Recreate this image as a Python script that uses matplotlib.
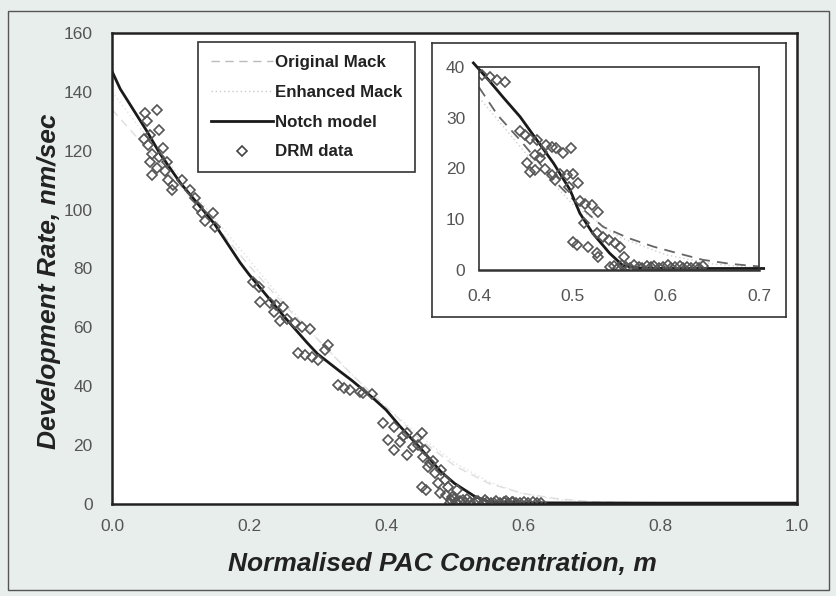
import matplotlib
matplotlib.use("Agg")
import matplotlib.pyplot as plt
from matplotlib.patches import Rectangle
from matplotlib.lines import Line2D

plt.rcParams['font.family'] = ['Liberation Sans', 'DejaVu Sans']

# DRM data
main_m = [0.065, 0.048, 0.051, 0.069, 0.055, 0.046, 0.074, 0.053, 0.058, 0.068,
          0.055, 0.065, 0.058, 0.080, 0.077, 0.082, 0.087, 0.089, 0.102, 0.114,
          0.121, 0.126, 0.131, 0.148, 0.136, 0.150,
          0.206, 0.214, 0.216, 0.231, 0.240, 0.250, 0.236, 0.255, 0.267, 0.277,
          0.289, 0.245, 0.316, 0.311, 0.272, 0.282, 0.292, 0.301, 0.330, 0.338,
          0.347, 0.362, 0.379,
          0.367, 0.396, 0.411, 0.430, 0.452, 0.403, 0.420, 0.440, 0.457, 0.411,
          0.430, 0.454, 0.464, 0.481, 0.472, 0.452, 0.459, 0.479, 0.491, 0.503,
          0.496, 0.493, 0.445, 0.468, 0.486, 0.425, 0.447, 0.462, 0.476, 0.488,
          0.495, 0.502, 0.508, 0.515, 0.522, 0.528, 0.535, 0.541, 0.548, 0.554,
          0.560, 0.566, 0.572, 0.578, 0.584, 0.590, 0.512, 0.531, 0.557, 0.575,
          0.596, 0.602, 0.608, 0.614, 0.620, 0.626, 0.500, 0.518, 0.544, 0.586]
main_rate = [133.8, 132.7, 130.0, 127.0, 125.3, 124.0, 121.0, 122.0, 119.0, 118.0,
             116.3, 114.0, 111.8, 116.3, 113.0, 110.0, 106.7, 108.4, 110.0, 106.7,
             103.8, 101.0, 98.7, 98.7, 96.0, 94.2,
             75.5, 73.8, 68.7, 68.2, 67.6, 67.0, 65.3, 63.0, 61.4, 60.2,
             59.4, 62.0, 54.0, 52.3, 51.2, 50.6, 50.0, 48.9, 40.4, 39.3,
             38.7, 38.1, 37.4,
             37.6, 27.4, 26.3, 24.0, 24.0, 21.7, 21.2, 19.5, 18.3, 18.3,
             16.6, 16.0, 13.8, 11.5, 10.4, 5.9, 4.8, 3.6, 5.9, 4.8,
             2.5, 0.4, 22.5, 14.5, 8.0, 23.0, 20.0, 12.5, 7.0, 3.0,
             1.2, 0.6, 1.0, 0.4, 0.8, 0.5, 1.1, 0.3, 0.7, 0.5,
             0.9, 0.4, 0.6, 0.3, 0.7, 0.5, 1.4, 0.9, 0.2, 1.0,
             0.4, 0.7, 0.3, 0.6, 0.4, 0.5, 2.0, 1.8, 1.3, 0.8]

# model curves in the main plot
notch_m = [0.0, 0.012, 0.05, 0.07, 0.1, 0.136, 0.15, 0.187, 0.2, 0.25, 0.284,
           0.3, 0.333, 0.35, 0.381, 0.4, 0.42, 0.45, 0.48, 0.5, 0.53, 0.55,
           0.6, 0.8, 1.0]
notch_rate = [147, 141, 127, 119, 109, 99, 95, 82, 78, 64, 55, 51, 45, 42,
              36, 32, 26.5, 19, 11, 7, 2.5, 0.8, 0.4, 0.3, 0.3]
orig_m = [0.0, 0.05, 0.1, 0.15, 0.2, 0.25, 0.3, 0.35, 0.4, 0.45, 0.5, 0.55,
          0.6, 0.65, 0.7, 0.8, 0.9, 1.0]
orig_rate = [134, 121, 108, 95, 81, 68, 56, 44, 33, 22, 13, 7, 3.6, 1.8,
             0.8, 0.2, 0.05, 0.0]
enh_rate = [140, 125, 111, 97, 83, 69, 56, 44, 33, 23, 14, 7.5, 3.5, 1.5,
            0.6, 0.1, 0.0, 0.0]

# inset: DRM data
inset_m = [0.394, 0.403, 0.412, 0.419, 0.428, 0.444, 0.449, 0.455, 0.462, 0.460,
           0.467, 0.472, 0.478, 0.483, 0.490, 0.499, 0.451, 0.455, 0.460, 0.465,
           0.471, 0.478, 0.481, 0.487, 0.494, 0.501, 0.506, 0.496, 0.508, 0.514,
           0.521, 0.528, 0.512, 0.501, 0.505, 0.517, 0.526, 0.528, 0.526, 0.533,
           0.539, 0.546, 0.551, 0.555,
           0.540, 0.545, 0.549, 0.553, 0.558, 0.562, 0.566, 0.571, 0.575, 0.580,
           0.584, 0.588, 0.593, 0.597, 0.602, 0.606, 0.610, 0.615, 0.619, 0.623,
           0.627, 0.632, 0.636, 0.640]
inset_rate = [38.8, 38.4, 38.1, 37.4, 37.1, 27.3, 26.6, 25.9, 25.6, 22.7,
              23.3, 24.6, 24.3, 24.0, 23.0, 24.0, 21.0, 19.4, 19.7, 22.0,
              20.0, 18.7, 17.7, 19.0, 18.7, 19.0, 17.1, 16.4, 13.5, 13.1,
              12.8, 11.5, 9.2, 5.6, 4.9, 4.6, 3.3, 2.6, 7.2, 6.6,
              5.9, 5.3, 4.6, 2.6,
              0.6, 0.8, 0.4, 0.9, 0.5, 0.3, 1.0, 0.6, 0.4, 0.8,
              0.5, 0.7, 0.3, 0.6, 0.9, 0.4, 0.5, 0.7, 0.3, 0.6,
              0.4, 0.5, 0.3, 0.8]

# inset: model curves
inset_notch_m = [0.394, 0.41, 0.426, 0.444, 0.462, 0.48, 0.4975, 0.508, 0.522,
                 0.54, 0.554, 0.57, 0.6, 0.65, 0.705]
inset_notch_rate = [40.8, 37.5, 34.0, 30.2, 25.6, 21.0, 15.8, 11.2, 7.2, 3.3,
                    0.9, 0.4, 0.3, 0.3, 0.3]
inset_orig_m = [0.4, 0.42, 0.444, 0.465, 0.487, 0.51, 0.533, 0.56, 0.587,
                0.615, 0.64, 0.67, 0.70]
inset_orig_rate = [36, 30.5, 25.6, 21, 16.4, 12.2, 8.5, 6.3, 4.6, 3.2, 2.0,
                   1.2, 0.7]
inset_enh_m = [0.4, 0.45, 0.5, 0.55, 0.6, 0.65, 0.7]
inset_enh_rate = [34, 23, 13, 6.5, 3.0, 1.2, 0.4]

W, H = 836, 596
fig = plt.figure(figsize=(W / 100, H / 100), dpi=100)
fig.patch.set_facecolor('#e8eeec')
fig.patches.append(Rectangle((8 / W, 1 - 590 / H), 821 / W, 579 / H,
                             transform=fig.transFigure, fill=False,
                             edgecolor='#555555', lw=1.0))

ax = fig.add_axes([112 / W, 1 - 504 / H, 685 / W, 471 / H])
ax.set_facecolor('white')
ax.plot(orig_m, orig_rate, ls=(0, (6, 4)), color='#dedede', lw=1.0)
ax.plot(orig_m, enh_rate, ls=(0, (1, 2)), color='#e2e2e2', lw=1.0)
ax.plot(notch_m, notch_rate, color='#1a1a1a', lw=2.0)
ax.plot(main_m, main_rate, ls='none', marker='D', ms=5.5, mfc='none',
        mec='#555555', mew=1.2)
ax.set_xlim(0, 1.0)
ax.set_ylim(0, 160)
ax.set_xticks([0, 0.2, 0.4, 0.6, 0.8, 1.0])
ax.set_xticklabels(['0.0', '0.2', '0.4', '0.6', '0.8', '1.0'])
ax.set_yticks(range(0, 161, 20))
ax.tick_params(length=0, labelsize=12.5, labelcolor='#555555')
ax.tick_params(axis='x', pad=11)
ax.tick_params(axis='y', pad=14)
for s in ax.spines.values():
    s.set_color('#222222')
    s.set_linewidth(1.8)
ax.set_xlabel('Normalised PAC Concentration, m', fontsize=19,
              fontweight='bold', fontstyle='italic', color='#222222')
ax.set_ylabel('Development Rate, nm/sec', fontsize=19,
              fontweight='bold', fontstyle='italic', color='#222222')
ax.xaxis.set_label_coords(0.483, -0.102)
ax.yaxis.set_label_coords(-0.075, 0.473)

handles = [
    Line2D([], [], ls=(0, (6, 4)), color='#bbbbbb', lw=1.0),
    Line2D([], [], ls=(0, (1, 2)), color='#cccccc', lw=1.0),
    Line2D([], [], color='#1a1a1a', lw=2.0),
    Line2D([], [], ls='none', marker='D', ms=5, mfc='none', mec='#444444', mew=1.2),
]
labels = ['Original Mack', 'Enhanced Mack', 'Notch model', 'DRM data']
leg = fig.legend(handles, labels, loc='upper left',
                 bbox_to_anchor=(198 / W, 1 - 42 / H), bbox_transform=fig.transFigure,
                 borderaxespad=0, frameon=True, fancybox=False, framealpha=1,
                 edgecolor='#333333', handlelength=3.7, handletextpad=0.1,
                 labelspacing=0.88, borderpad=0.75,
                 prop={'weight': 'bold', 'size': 12.2})
leg.get_frame().set_linewidth(1.2)
for t in leg.get_texts():
    t.set_color('#222222')

# inset frame and axes
frame = fig.add_axes([432 / W, 1 - 317 / H, 354 / W, 274 / H])
frame.set_facecolor('white')
frame.set_xticks([])
frame.set_yticks([])
for s in frame.spines.values():
    s.set_color('#333333')
    s.set_linewidth(1.2)

ins = fig.add_axes([479 / W, 1 - 270 / H, 280 / W, 203 / H])
ins.set_facecolor('white')
ins.plot(inset_enh_m, inset_enh_rate, ls=(0, (1, 2)), color='#d0d0d0', lw=1.0)
ins.plot(inset_orig_m, inset_orig_rate, ls=(0, (6, 4)), color='#666666', lw=1.3)
ins.plot(inset_notch_m, inset_notch_rate, color='#1a1a1a', lw=2.0, clip_on=False)
ins.plot(inset_m, inset_rate, ls='none', marker='D', ms=5.5, mfc='none',
         mec='#555555', mew=1.2)
ins.set_xlim(0.4, 0.7)
ins.set_ylim(0, 40)
ins.set_xticks([0.4, 0.5, 0.6, 0.7])
ins.set_yticks([0, 10, 20, 30, 40])
ins.tick_params(length=0, labelsize=12.5, labelcolor='#555555')
ins.tick_params(axis='x', pad=14)
ins.tick_params(axis='y', pad=10)
for s in ins.spines.values():
    s.set_color('#333333')
    s.set_linewidth(1.2)
ins.spines['bottom'].set_linewidth(1.8)

fig.savefig('out.png', dpi=100, facecolor=fig.get_facecolor())
